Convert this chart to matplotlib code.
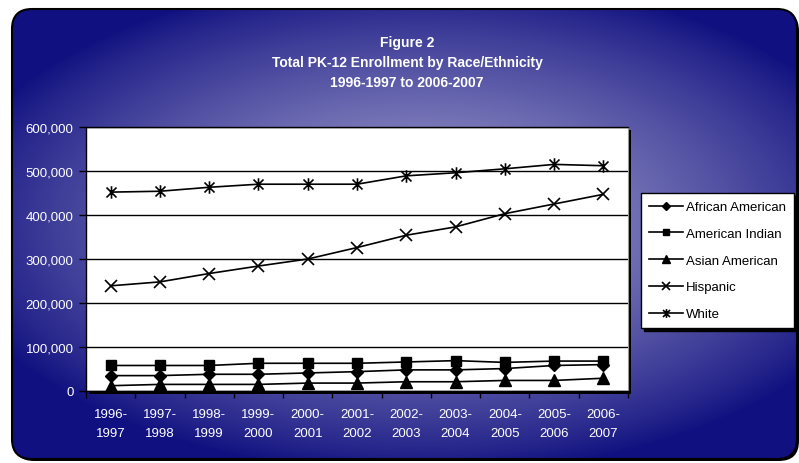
"""
Figure 2 - Total PK-12 enrollment by race/ethnicity, 1996-1997 to 2006-2007
"""

import numpy as np
import matplotlib
matplotlib.use("Agg")
import matplotlib.pyplot as plt
from matplotlib.patches import FancyBboxPatch, Rectangle
from matplotlib.path import Path
from matplotlib.ticker import FuncFormatter, FixedLocator

years = ["1996-\n1997", "1997-\n1998", "1998-\n1999", "1999-\n2000", "2000-\n2001",
         "2001-\n2002", "2002-\n2003", "2003-\n2004", "2004-\n2005", "2005-\n2006",
         "2006-\n2007"]

african_american = [35000, 35000, 38000, 38000, 41000, 44000, 48000, 48000, 51000, 58000, 60000]
american_indian = [58000, 58000, 58000, 63000, 63000, 63000, 66000, 69000, 65000, 68000, 68000]
asian_american = [12000, 15000, 15000, 15000, 18000, 18000, 21000, 21000, 24000, 24000, 29000]
hispanic = [239000, 248000, 267000, 284000, 300000, 326000, 354000, 373000, 403000, 425000, 447000]
white = [452000, 454000, 463000, 470000, 470000, 470000, 489000, 496000, 505000, 515000, 512000]

W, H = 799, 464
plt.rcParams['font.family'] = ['Liberation Sans', 'DejaVu Sans']

fig = plt.figure(figsize=(W / 100, H / 100), dpi=100)
fig.patch.set_facecolor("white")

# background panel with a soft glow in the middle
bg = fig.add_axes([0, 0, 1, 1])
yy, xx = np.mgrid[0:H, 0:W]
r = np.sqrt(((xx - 420) / 480.0) ** 2 + ((yy - 225) / 250.0) ** 2)
t = np.clip(1 - r, 0, 1) ** 0.85
edge = np.array([16, 16, 128]) / 255.0
center = np.array([175, 172, 212]) / 255.0
img = edge + (center - edge) * t[..., None]
bg.add_patch(FancyBboxPatch((14, 12), 785, 450, boxstyle="round,pad=0,rounding_size=20",
                            facecolor="black", edgecolor="none", zorder=0.5))
panel = FancyBboxPatch((12, 10), 785, 450, boxstyle="round,pad=0,rounding_size=20",
                       facecolor="none", edgecolor="black", linewidth=1.5, zorder=2)
im = bg.imshow(img, extent=(0, W, H, 0), interpolation="bilinear", aspect="auto", zorder=1)
bg.add_patch(panel)
im.set_clip_path(panel)
bg.set_xlim(0, W)
bg.set_ylim(H, 0)
bg.axis("off")

# plot area
x0, x1, ytop, ybot = 86, 628, 128, 392
bg.add_patch(Rectangle((x0 + 3, ytop + 3), x1 - x0, ybot - ytop, facecolor="black",
                       edgecolor="none", zorder=3))
ax = fig.add_axes([x0 / W, (H - ybot) / H, (x1 - x0) / W, (ybot - ytop) / H])
ax.set_facecolor("white")

star = Path([(-1, -1), (1, 1), (-1, 1), (1, -1), (0, -1.25), (0, 1.25)],
            [Path.MOVETO, Path.LINETO, Path.MOVETO, Path.LINETO, Path.MOVETO, Path.LINETO])

x = np.arange(len(years))
ax.plot(x, african_american, color="black", lw=1.2, marker="D", ms=6, label="African American")
ax.plot(x, american_indian, color="black", lw=1.2, marker="s", ms=7, label="American Indian")
ax.plot(x, asian_american, color="black", lw=1.2, marker="^", ms=8, label="Asian American")
ax.plot(x, hispanic, color="black", lw=1.2, marker="x", ms=8, mew=1.2, label="Hispanic")
ax.plot(x, white, color="black", lw=1.2, marker=star, ms=9, mew=1.2, mfc="none", label="White")

ax.set_xlim(-0.5, len(years) - 0.5)
ax.set_ylim(0, 600000)
ax.set_yticks(np.arange(0, 600001, 100000))
ax.yaxis.set_major_formatter(FuncFormatter(lambda v, p: "{:,.0f}".format(v)))
ax.grid(axis="y", color="black", lw=1)
ax.set_axisbelow(True)

ax.set_xticks(x)
ax.set_xticklabels(years)
ax.xaxis.set_minor_locator(FixedLocator(np.arange(-0.5, len(years), 1)))
ax.tick_params(axis="x", which="major", length=0, pad=12, colors="white", labelsize=9.5)
ax.tick_params(axis="x", which="minor", length=5, width=1, direction="out", color="black")
ax.tick_params(axis="y", length=5, width=1, direction="out", colors="white",
               labelsize=9.5, pad=4)
ax.tick_params(axis="y", color="black")
for lab in ax.get_xticklabels():
    lab.set_linespacing(1.85)

for s in ["left", "bottom", "top"]:
    ax.spines[s].set_color("black")
    ax.spines[s].set_linewidth(1)
ax.spines["right"].set_color("#999999")

# legend
leg = fig.legend(loc="upper right", bbox_to_anchor=(794 / W, 1 - 194 / H), fontsize=9.5,
                 frameon=True, fancybox=False, edgecolor="black", framealpha=1,
                 shadow={"color": "black", "alpha": 1}, handlelength=2.6, markerscale=0.7,
                 handletextpad=0.2, labelspacing=1.1, borderpad=0.6, borderaxespad=0)
leg.get_frame().set_linewidth(1)

# titles
fig.text(407 / W, 1 - 43 / H, "Figure 2", ha="center", va="center", color="white",
         fontsize=10, fontweight="bold")
fig.text(407 / W, 1 - 63 / H, "Total PK-12 Enrollment by Race/Ethnicity", ha="center",
         va="center", color="white", fontsize=10, fontweight="bold")
fig.text(407 / W, 1 - 83 / H, "1996-1997 to 2006-2007", ha="center", va="center",
         color="white", fontsize=10, fontweight="bold")

fig.savefig("out.png", dpi=100, facecolor=fig.get_facecolor())
